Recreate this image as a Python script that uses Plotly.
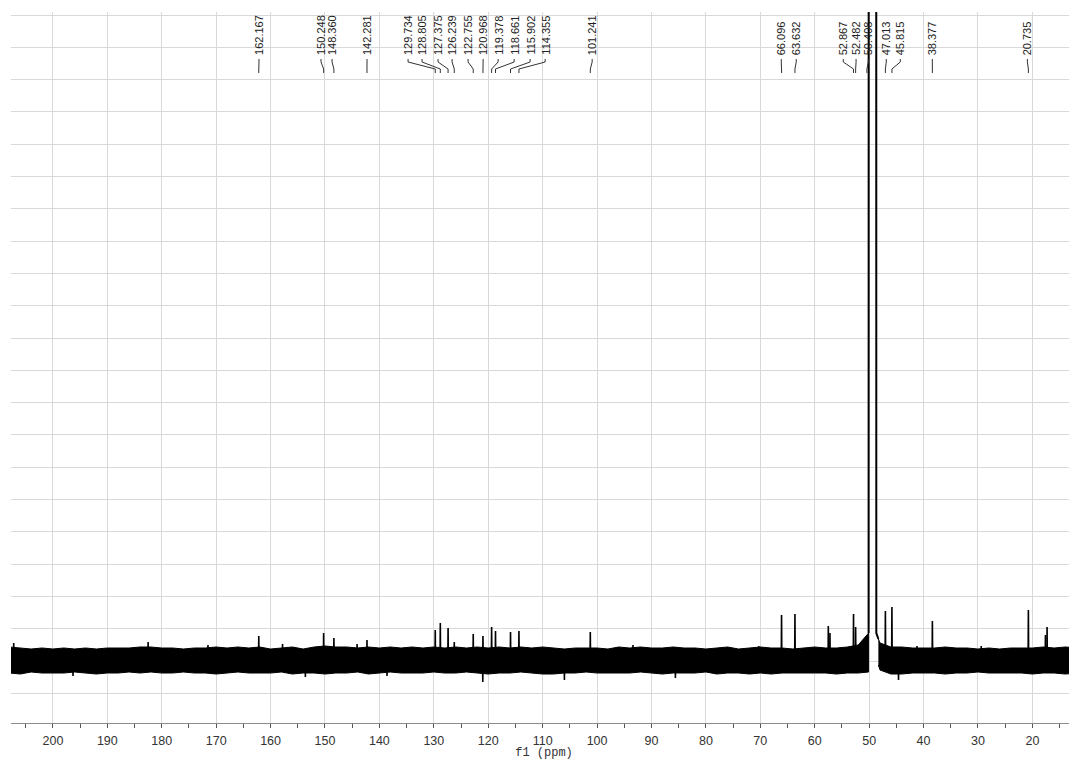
import plotly.graph_objects as go

# ---------------- data ----------------
# noise band envelope, left of the solvent signal (ppm, upper, lower intensity)
band1_ppm = [208, 206, 204, 202, 200, 198, 196, 194, 192, 190,
             188, 186, 184, 182, 180, 178, 176, 174, 172, 170,
             168, 166, 164, 162, 160, 158, 156, 154, 152, 150,
             148, 146, 144, 142, 140, 138, 136, 134, 132, 130,
             128, 126, 124, 122, 120, 118, 116, 114, 112, 110,
             108, 106, 104, 102, 100, 98, 96, 94, 92, 90,
             88, 86, 84, 82, 80, 78, 76, 74, 72, 70,
             68, 66, 64, 62, 60, 58, 56, 54, 52, 50.1]
band1_up = [14, 13, 12, 13, 12, 13, 12, 13, 12, 13,
            13, 13, 14, 14, 13, 13, 12, 13, 13, 14,
            13, 14, 13, 14, 12, 13, 14, 12, 14, 15,
            14, 14, 13, 14, 13, 14, 13, 14, 13, 14,
            13, 14, 13, 14, 13, 14, 13, 14, 13, 14,
            13, 12, 13, 13, 13, 12, 14, 13, 14, 13,
            13, 14, 13, 13, 12, 13, 14, 12, 13, 14,
            13, 13, 12, 13, 14, 13, 13, 14, 16, 28]
band1_lo = [-12, -13, -11, -12, -12, -12, -11, -12, -13, -12,
            -12, -11, -12, -11, -12, -12, -11, -12, -12, -13,
            -12, -11, -12, -12, -12, -11, -13, -12, -12, -13,
            -12, -12, -11, -13, -12, -11, -12, -12, -12, -11,
            -12, -12, -11, -12, -13, -12, -12, -11, -12, -13,
            -13, -12, -12, -11, -12, -12, -12, -12, -11, -12,
            -13, -12, -12, -12, -11, -13, -12, -12, -13, -12,
            -13, -12, -12, -12, -12, -12, -13, -12, -12, -11]

# noise band envelope, right of the solvent signal
band2_ppm = [48.3, 48, 46, 44, 42, 40, 38, 36, 34, 32,
             30, 28, 26, 24, 22, 20, 18, 16, 14, 11]
band2_up = [22, 18, 14, 14, 13, 13, 13, 14, 13, 13,
            12, 13, 12, 13, 13, 13, 14, 13, 14, 13]
band2_lo = [-4, -9, -13, -13, -12, -12, -12, -13, -12, -12,
            -11, -12, -12, -12, -12, -13, -12, -12, -13, -12]

# isolated noise spikes sticking out of the band (ppm, intensity)
spike_ppm = [207.2, 196.3, 182.5, 171.5, 157.8, 153.6, 144.1, 138.6,
             121.0, 106.0, 93.4, 85.6, 70.3, 44.6, 41.2, 29.4, 11.9]
spike_int = [18, -15, 19, 16, 17, -16, 17, -15,
             -21, -19, 16, -17, 15, -19, 15, 15, 16]

# solvent (CD3OD) signal, off scale
solvent_ppm = [50.1, 50.02, 48.74, 48.68, 48.3]
solvent_int = [28, 3000, 3000, 28, 22]

# labelled peaks
peak_labels = ["162.167", "150.248", "148.360", "142.281", "129.734", "128.805",
               "127.375", "126.239", "122.755", "120.968", "119.378", "118.661",
               "115.902", "114.355", "101.241", "66.096", "63.632", "52.867",
               "52.482", "50.408", "47.013", "45.815", "38.377", "20.735"]
peak_int = [25, 28, 23, 21, 31, 38, 33, 19, 27, 25, 34, 30,
            29, 30, 29, 46, 47, 47, 34, 0, 50, 54, 40, 51]

# unlabelled peaks
extra_ppm = [57.5, 57.2, 17.6, 17.3]
extra_int = [35, 28, 26, 34]

x_ticks = [200, 190, 180, 170, 160, 150, 140, 130, 120, 110, 100,
           90, 80, 70, 60, 50, 40, 30, 20]

# label text positions (ppm) for the peak-pick annotations
label_pos = [162.13, 150.73, 148.70, 142.27, 134.73, 132.16, 129.22, 126.64,
             123.70, 120.94, 118.18, 115.24, 112.30, 109.54, 100.90, 66.15,
             63.40, 54.75, 52.40, 50.16, 46.85, 44.27, 38.39, 20.92]

# ---------------- figure ----------------
fig = go.Figure()

for bp, bu, bl in [(band1_ppm, band1_up, band1_lo), (band2_ppm, band2_up, band2_lo)]:
    fig.add_trace(go.Scatter(
        x=bp + bp[::-1], y=bu + bl[::-1], mode="lines", fill="toself",
        fillcolor="black", line=dict(color="black", width=1),
        hoverinfo="skip", showlegend=False))

fig.add_trace(go.Scatter(x=solvent_ppm, y=solvent_int, mode="lines",
                         line=dict(color="black", width=2),
                         showlegend=False, hoverinfo="skip"))

all_ppm = [float(t) for t in peak_labels] + extra_ppm + spike_ppm
all_int = peak_int + extra_int + spike_int
sx, sy = [], []
for p, h in zip(all_ppm, all_int):
    if h == 0:
        continue
    sx += [p + 0.05, p, p - 0.05, None]
    sy += [0, h, 0, None]
fig.add_trace(go.Scatter(x=sx, y=sy, mode="lines",
                         line=dict(color="black", width=1.6),
                         showlegend=False, hoverinfo="skip"))

# peak-pick labels and connectors (page pixel rows -> paper coords)
plot_top, plot_bot = 12, 723
H = plot_bot - plot_top


def py(px):
    return (plot_bot - px) / H


for txt, lx in zip(peak_labels, label_pos):
    px = float(txt)
    fig.add_annotation(x=lx, xref="x", y=py(57), yref="paper", text=txt,
                       textangle=-90, showarrow=False, xanchor="center",
                       yanchor="bottom",
                       font=dict(family="Liberation Sans", size=11, color="#222"))
    fig.add_shape(type="path", xref="x", yref="paper",
                  path=f"M {lx},{py(59)} L {lx},{py(62)} L {px},{py(69)} L {px},{py(73)}",
                  line=dict(color="#333", width=1))

# the page body adds an 8 px offset, so the figure is 8 px smaller
fig.update_layout(
    width=1069, height=752,
    margin=dict(l=3, r=0, t=4, b=37),
    paper_bgcolor="white", plot_bgcolor="white",
    xaxis=dict(range=[207.7, 11.8], tickvals=x_ticks,
               ticktext=[str(v) for v in x_ticks],
               showgrid=True, gridcolor="#d9d9d9", gridwidth=1,
               zeroline=False, showline=True, linecolor="#8c8c8c", linewidth=1,
               ticks="", ticklabelstandoff=6,
               minor=dict(dtick=5, tick0=0, ticks="outside", ticklen=4,
                          tickcolor="#555", showgrid=False),
               tickfont=dict(family="Liberation Sans", size=12.5, color="#333"),
               title=dict(text="f1 (ppm)", standoff=2,
                          font=dict(family="Liberation Mono", size=12, color="#333"))),
    yaxis=dict(range=[-62, 649], showgrid=True, gridcolor="#d9d9d9", gridwidth=1,
               dtick=32.3, tick0=0, showticklabels=False, zeroline=False,
               showline=False, ticks=""),
)

fig.write_html("out.html")
